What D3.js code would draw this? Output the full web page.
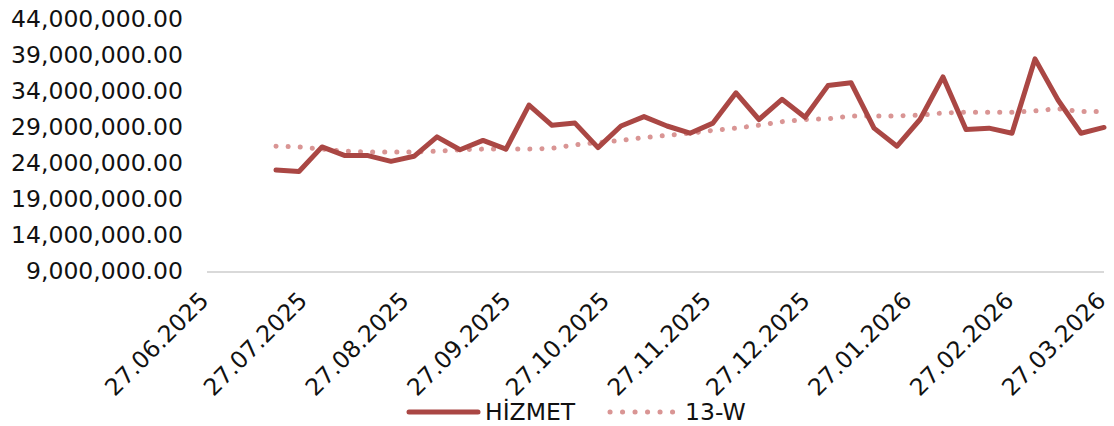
<!DOCTYPE html>
<html>
<head>
<meta charset="utf-8">
<script src="https://cdn.jsdelivr.net/npm/d3@7"></script>
<style>
    body { margin: 0; background: #fff; }
    text { font-family: "DejaVu Sans", sans-serif; fill: #111; }
</style>
</head>
<body>
<div id="chart"></div>
<script>
const W = 1114, H = 426;

// weekly dates (Fridays)
const firstWeek = "18.07.2025";
const weekCount = 37;

const hizmet = [
    23.0, 22.8, 26.2, 25.0, 25.0, 24.2, 24.9, 27.6, 25.8, 27.1,
    25.9, 32.0, 29.2, 29.5, 26.1, 29.1, 30.4, 29.1, 28.1, 29.5,
    33.7, 30.0, 32.8, 30.3, 34.7, 35.1, 28.8, 26.3, 30.0, 35.9,
    28.6, 28.8, 28.1, 38.4, 32.7, 28.1, 28.9
];
const avg13w = [
    26.3, 26.2, 25.9, 25.6, 25.5, 25.5, 25.5, 25.6, 25.8, 25.9,
    25.9, 25.9, 26.0, 26.5, 26.8, 27.1, 27.5, 27.8, 28.1, 28.5,
    28.8, 29.2, 29.7, 30.0, 30.1, 30.5, 30.5, 30.5, 30.6, 30.9,
    31.0, 31.0, 31.0, 31.2, 31.5, 31.1, 31.1
];

const yTicks = [9, 14, 19, 24, 29, 34, 39, 44];
const xTickLabels = [
    "27.06.2025", "27.07.2025", "27.08.2025", "27.09.2025", "27.10.2025",
    "27.11.2025", "27.12.2025", "27.01.2026", "27.02.2026", "27.03.2026"
];
const seriesNames = ["HİZMET", "13-W"];

const parse = d3.timeParse("%d.%m.%Y");
const start = parse(firstWeek);
const dates = d3.range(weekCount).map(i => d3.timeDay.offset(start, i * 7));

const margin = { left: 207, right: 10, top: 18.5, plotBottom: 271 };

const x = d3.scaleTime()
    .domain([parse(xTickLabels[0]), parse(xTickLabels[xTickLabels.length - 1])])
    .range([margin.left, W - margin.right]);

const y = d3.scaleLinear()
    .domain([9, 44])
    .range([margin.plotBottom, margin.top]);

const svg = d3.select("#chart").append("svg")
    .attr("width", W)
    .attr("height", H);

// y labels
const fmt = d3.format(",.2f");
svg.append("g").selectAll("text")
    .data(yTicks)
    .enter()
    .append("text")
    .attr("x", 183)
    .attr("y", d => y(d))
    .attr("dy", "0.36em")
    .attr("text-anchor", "end")
    .style("font-size", "23.5px")
    .text(d => fmt(d * 1e6));

// x axis line
svg.append("line")
    .attr("x1", x.range()[0])
    .attr("x2", x.range()[1])
    .attr("y1", margin.plotBottom + 1)
    .attr("y2", margin.plotBottom + 1)
    .attr("stroke", "#d9d9d9")
    .attr("stroke-width", 2);

// x labels, rotated
svg.append("g").selectAll("text")
    .data(xTickLabels)
    .enter()
    .append("text")
    .attr("transform", d => `translate(${x(parse(d)) - 3},${margin.plotBottom + 25}) rotate(-45)`)
    .attr("text-anchor", "end")
    .attr("dy", "0.36em")
    .style("font-size", "23.5px")
    .text(d => d);

const line = d3.line()
    .x((d, i) => x(dates[i]))
    .y(d => y(d));

svg.append("path")
    .datum(avg13w)
    .attr("d", line)
    .attr("fill", "none")
    .attr("stroke", "#d99594")
    .attr("stroke-width", 5)
    .attr("stroke-linecap", "round")
    .attr("stroke-dasharray", "0.1 12");

svg.append("path")
    .datum(hizmet)
    .attr("d", line)
    .attr("fill", "none")
    .attr("stroke", "#aa4744")
    .attr("stroke-width", 5)
    .attr("stroke-linejoin", "round")
    .attr("stroke-linecap", "round");

// legend
const lg = svg.append("g");
lg.append("line")
    .attr("x1", 409).attr("x2", 478)
    .attr("y1", 412).attr("y2", 412)
    .attr("stroke", "#aa4744")
    .attr("stroke-width", 5)
    .attr("stroke-linecap", "round");
lg.append("text")
    .attr("x", 485).attr("y", 412)
    .attr("dy", "0.36em")
    .style("font-size", "23.5px")
    .text(seriesNames[0]);
lg.append("line")
    .attr("x1", 610).attr("x2", 673)
    .attr("y1", 412).attr("y2", 412)
    .attr("stroke", "#d99594")
    .attr("stroke-width", 5)
    .attr("stroke-linecap", "round")
    .attr("stroke-dasharray", "0.1 12.4");
lg.append("text")
    .attr("x", 685).attr("y", 412)
    .attr("dy", "0.36em")
    .style("font-size", "23.5px")
    .text(seriesNames[1]);
</script>
</body>
</html>
